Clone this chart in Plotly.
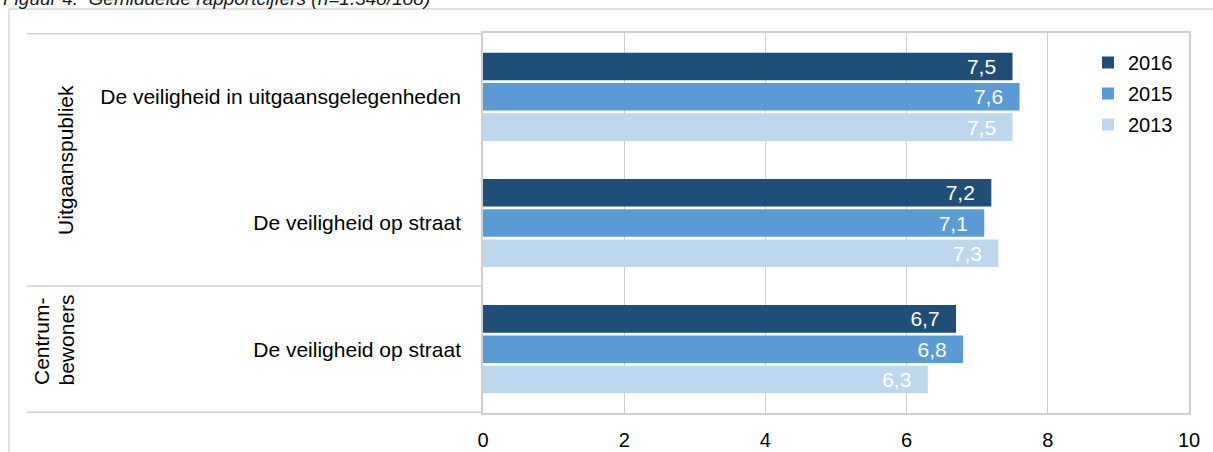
import plotly.graph_objects as go

# ---- data ----
groups = ["Uitgaanspubliek", "Uitgaanspubliek", "Centrumbewoners"]
group_label_lines = ["Centrum-", "bewoners"]
items = ["De veiligheid in uitgaansgelegenheden", "De veiligheid op straat", "De veiligheid op straat"]
years = ["2016", "2015", "2013"]
vals_2016 = [7.5, 7.2, 6.7]
vals_2015 = [7.6, 7.1, 6.8]
vals_2013 = [7.5, 7.3, 6.3]
x_ticks = [0, 2, 4, 6, 8, 10]
title_text = "Figuur 4.\u00a0 Gemiddelde rapportcijfers (n=1.348/188)"

series = [vals_2016, vals_2015, vals_2013]
colors = ["#1F4E79", "#5B9BD5", "#BDD7EE"]

keys = [f"{g}|{i}|{n}" for n, (g, i) in enumerate(zip(groups, items))]

W, H = 1213, 452
ML, MR, MT, MB = 483, 24, 33, 39
PW = W - ML - MR
PH = H - MT - MB
FONT = "Liberation Sans, Arial, sans-serif"
FS = 21


def px_x(p):
    return (p - ML) / PW


def px_y(p):
    return 1 - (p - MT) / PH


def lab(v):
    return f"{v:.1f}".replace(".", ",") + "\u00a0\u00a0\u200a"


fig = go.Figure()
for yr, vals, col in zip(years, series, colors):
    fig.add_trace(go.Bar(
        y=keys, x=vals, orientation="h", name=yr,
        marker=dict(color=col, line=dict(width=0)),
        text=[lab(v) for v in vals],
        textposition="inside", insidetextanchor="end",
        textfont=dict(color="white", size=FS, family=FONT),
        constraintext="none", textangle=0,
        legendgroup=yr, hoverinfo="skip",
    ))

line_col = "#D0D0D0"
shapes = []
# outer chart border
shapes.append(dict(type="rect", xref="paper", yref="paper",
                   x0=px_x(9), x1=px_x(1240), y0=px_y(480), y1=px_y(9),
                   line=dict(color="#D9D9D9", width=1.5), layer="below"))
# category area dividers
for yy in [-0.5, 1.5, 2.5]:
    shapes.append(dict(type="line", xref="paper", yref="y",
                       x0=px_x(27), x1=0, y0=yy, y1=yy,
                       line=dict(color=line_col, width=1.5)))

annotations = [
    dict(text="<i>" + title_text + "</i>", xref="paper", yref="paper",
         x=px_x(1), y=px_y(11), xanchor="left", yanchor="bottom",
         showarrow=False, font=dict(size=19, family=FONT, color="#1a1a1a")),
    dict(text=groups[0], xref="paper", yref="y", x=px_x(66), y=0.5,
         xanchor="center", yanchor="middle", textangle=-90, showarrow=False,
         font=dict(size=FS, family=FONT, color="#000")),
]
for line_txt, xc in zip(group_label_lines, [41, 66]):
    annotations.append(dict(text=line_txt, xref="paper", yref="paper", x=px_x(xc), y=px_y(387),
                            xanchor="center", yanchor="bottom", textangle=-90, showarrow=False,
                            font=dict(size=FS, family=FONT, color="#000")))

fig.update_layout(
    width=W, height=H, autosize=False,
    margin=dict(l=ML, r=MR, t=MT, b=MB, pad=0, autoexpand=False),
    paper_bgcolor="white", plot_bgcolor="white",
    barmode="group", bargap=0.28, bargroupgap=0.09,
    font=dict(family=FONT, size=FS, color="#000"),
    showlegend=True,
    legend=dict(x=px_x(1088), y=px_y(43), xanchor="left", yanchor="top",
                font=dict(size=20, family=FONT, color="#000"),
                traceorder="grouped", tracegroupgap=2,
                bgcolor="rgba(0,0,0,0)", borderwidth=0),
    shapes=shapes, annotations=annotations,
)
fig.update_xaxes(range=[0, 10], tickvals=x_ticks, ticktext=[str(t) for t in x_ticks],
                 showgrid=True, gridcolor=line_col, gridwidth=1.3, automargin=False,
                 zeroline=False, showline=True, linecolor=line_col, linewidth=1.5,
                 mirror=True, ticks="outside", ticklen=8, tickcolor="rgba(0,0,0,0)",
                 tickfont=dict(size=20, family=FONT, color="#000"))
fig.update_yaxes(categoryorder="array", categoryarray=keys, tickvals=keys, ticktext=items,
                 autorange="reversed", showgrid=False, zeroline=False, automargin=False,
                 showline=True, linecolor=line_col, linewidth=1.5, mirror=True,
                 ticks="outside", ticklen=16, tickcolor="rgba(0,0,0,0)",
                 tickfont=dict(size=FS, family=FONT, color="#000"))

fig.write_html("out.html", config={"displayModeBar": False},
               post_script="document.body.style.margin='0';")
